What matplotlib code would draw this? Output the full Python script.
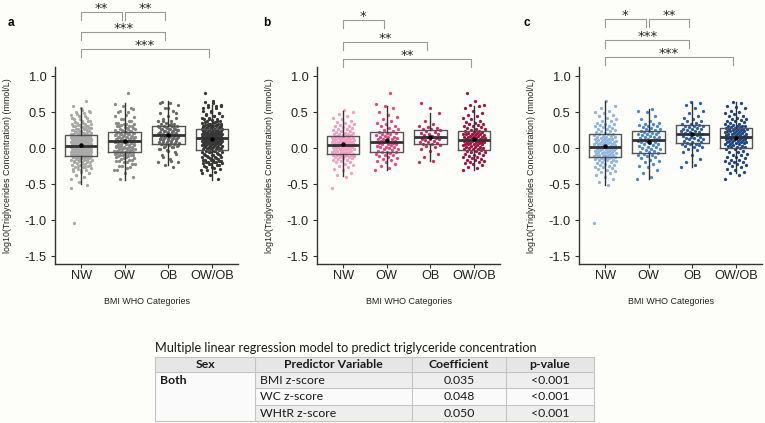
import matplotlib.pyplot as plt
import numpy as np
from matplotlib.patches import Rectangle

plt.rcParams['font.family'] = ['Liberation Sans', 'DejaVu Sans']
plt.rcParams['axes.unicode_minus'] = False

BG = '#fdfdf9'
W, H = 765, 423

categories = ['NW', 'OW', 'OB', 'OW/OB']
yticks = [-1.5, -1.0, -0.5, 0.0, 0.5, 1.0]
ytick_labels = ['-1.5', '-1.0', '-0.5', '0.0', '0.5', '1.0']

# girls (panel b)
b_nw = [-0.55, -0.40, -0.37, -0.34, -0.31, -0.29, -0.27, -0.25, -0.23, -0.22, -0.20, -0.19, -0.18, -0.17,
        -0.16, -0.15, -0.14, -0.14, -0.13, -0.12, -0.12, -0.11, -0.11, -0.10, -0.10, -0.09, -0.09, -0.09,
        -0.08, -0.08, -0.07, -0.07, -0.06, -0.06, -0.05, -0.05, -0.04, -0.04, -0.03, -0.03, -0.02, -0.02,
        -0.01, -0.01, 0.00, 0.00, 0.01, 0.01, 0.02, 0.02, 0.02, 0.03, 0.03, 0.03, 0.04, 0.04, 0.04, 0.05,
        0.05, 0.05, 0.06, 0.06, 0.06, 0.07, 0.07, 0.07, 0.08, 0.08, 0.08, 0.09, 0.09, 0.09, 0.10, 0.10,
        0.10, 0.11, 0.11, 0.11, 0.12, 0.12, 0.12, 0.13, 0.13, 0.14, 0.14, 0.15, 0.15, 0.16, 0.16, 0.16,
        0.17, 0.17, 0.18, 0.18, 0.19, 0.19, 0.20, 0.21, 0.21, 0.22, 0.23, 0.24, 0.25, 0.26, 0.27, 0.28,
        0.29, 0.30, 0.31, 0.32, 0.33, 0.35, 0.36, 0.38, 0.40, 0.42, 0.44, 0.47, 0.50, 0.53]
b_ow = [-0.31, -0.28, -0.25, -0.22, -0.20, -0.18, -0.17, -0.15, -0.14, -0.12, -0.11, -0.10, -0.09, -0.08,
        -0.07, -0.06, -0.05, -0.05, -0.04, -0.03, -0.02, -0.01, 0.00, 0.01, 0.02, 0.02, 0.03, 0.04, 0.05,
        0.05, 0.06, 0.07, 0.07, 0.08, 0.08, 0.09, 0.10, 0.10, 0.11, 0.12, 0.12, 0.13, 0.14, 0.15, 0.15,
        0.16, 0.17, 0.18, 0.19, 0.20, 0.21, 0.21, 0.22, 0.23, 0.25, 0.26, 0.28, 0.30, 0.31, 0.33, 0.35,
        0.37, 0.40, 0.43, 0.46, 0.50, 0.55, 0.58, 0.61, 0.77]
b_ob = [-0.19, -0.18, -0.12, -0.08, -0.04, -0.01, 0.02, 0.03, 0.04, 0.05, 0.06, 0.07, 0.08, 0.09, 0.10,
        0.11, 0.12, 0.13, 0.13, 0.14, 0.15, 0.16, 0.17, 0.18, 0.19, 0.20, 0.21, 0.22, 0.24, 0.25, 0.26,
        0.27, 0.28, 0.29, 0.31, 0.33, 0.37, 0.48, 0.55, 0.62]
b_owob = [-0.31, -0.28, -0.26, -0.24, -0.22, -0.21, -0.20, -0.19, -0.18, -0.17, -0.16, -0.15, -0.14,
          -0.13, -0.12, -0.11, -0.10, -0.09, -0.08, -0.07, -0.06, -0.05, -0.04, -0.04, -0.03, -0.02,
          -0.02, -0.01, 0.00, 0.00, 0.01, 0.02, 0.02, 0.03, 0.04, 0.04, 0.05, 0.05, 0.06, 0.06, 0.07,
          0.07, 0.08, 0.08, 0.09, 0.09, 0.10, 0.10, 0.10, 0.11, 0.11, 0.12, 0.12, 0.13, 0.13, 0.14, 0.14,
          0.15, 0.15, 0.16, 0.16, 0.17, 0.17, 0.18, 0.18, 0.19, 0.19, 0.20, 0.20, 0.21, 0.21, 0.22, 0.22,
          0.23, 0.24, 0.25, 0.26, 0.27, 0.28, 0.29, 0.30, 0.31, 0.32, 0.33, 0.34, 0.35, 0.36, 0.38, 0.40,
          0.42, 0.44, 0.46, 0.49, 0.52, 0.56, 0.58, 0.60, 0.60, 0.65, 0.77]

# boys (panel c)
c_nw = [-1.04, -0.51, -0.47, -0.43, -0.40, -0.37, -0.35, -0.33, -0.32, -0.30, -0.29, -0.28, -0.27, -0.26,
        -0.25, -0.24, -0.23, -0.22, -0.21, -0.20, -0.19, -0.18, -0.17, -0.17, -0.16, -0.15, -0.15, -0.14,
        -0.14, -0.13, -0.13, -0.12, -0.12, -0.11, -0.11, -0.10, -0.10, -0.09, -0.09, -0.08, -0.08, -0.07,
        -0.07, -0.06, -0.06, -0.05, -0.05, -0.04, -0.04, -0.03, -0.03, -0.02, -0.02, -0.01, -0.01, 0.00,
        0.00, 0.01, 0.01, 0.02, 0.02, 0.03, 0.03, 0.04, 0.04, 0.05, 0.05, 0.06, 0.06, 0.07, 0.07, 0.08,
        0.08, 0.09, 0.09, 0.10, 0.10, 0.11, 0.11, 0.12, 0.12, 0.13, 0.13, 0.14, 0.15, 0.15, 0.16, 0.17,
        0.17, 0.18, 0.19, 0.20, 0.20, 0.21, 0.22, 0.23, 0.24, 0.25, 0.26, 0.27, 0.28, 0.29, 0.30, 0.31,
        0.32, 0.33, 0.34, 0.35, 0.37, 0.38, 0.40, 0.42, 0.44, 0.46, 0.48, 0.50, 0.52, 0.55, 0.59, 0.65]
c_ow = [-0.43, -0.40, -0.35, -0.30, -0.27, -0.25, -0.22, -0.20, -0.18, -0.16, -0.14, -0.13, -0.11, -0.10,
        -0.09, -0.08, -0.07, -0.06, -0.05, -0.04, -0.03, -0.02, -0.01, 0.00, 0.01, 0.02, 0.03, 0.04, 0.05,
        0.06, 0.07, 0.08, 0.09, 0.10, 0.10, 0.11, 0.11, 0.12, 0.13, 0.14, 0.15, 0.16, 0.16, 0.17, 0.18,
        0.19, 0.20, 0.20, 0.21, 0.22, 0.22, 0.23, 0.24, 0.25, 0.26, 0.27, 0.28, 0.29, 0.30, 0.31, 0.32,
        0.33, 0.34, 0.35, 0.37, 0.40, 0.45, 0.50, 0.52, 0.54]
c_ob = [-0.26, -0.24, -0.20, -0.15, -0.10, -0.06, -0.03, -0.01, 0.01, 0.02, 0.03, 0.04, 0.05, 0.06, 0.06,
        0.07, 0.08, 0.09, 0.10, 0.11, 0.12, 0.13, 0.14, 0.14, 0.15, 0.16, 0.17, 0.18, 0.19, 0.19, 0.20,
        0.21, 0.22, 0.22, 0.23, 0.24, 0.25, 0.26, 0.26, 0.27, 0.28, 0.29, 0.30, 0.30, 0.31, 0.32, 0.33,
        0.34, 0.35, 0.37, 0.38, 0.40, 0.42, 0.45, 0.48, 0.52, 0.56, 0.60, 0.62, 0.64]
c_owob = [-0.43, -0.38, -0.35, -0.33, -0.31, -0.29, -0.27, -0.25, -0.23, -0.22, -0.21, -0.20, -0.19,
          -0.18, -0.17, -0.16, -0.14, -0.13, -0.12, -0.10, -0.09, -0.08, -0.06, -0.05, -0.04, -0.02,
          -0.01, 0.00, 0.01, 0.01, 0.02, 0.03, 0.03, 0.04, 0.05, 0.05, 0.06, 0.07, 0.07, 0.08, 0.08, 0.09,
          0.09, 0.10, 0.10, 0.11, 0.11, 0.12, 0.12, 0.13, 0.13, 0.14, 0.14, 0.15, 0.15, 0.16, 0.16, 0.16,
          0.17, 0.17, 0.18, 0.18, 0.19, 0.19, 0.20, 0.20, 0.21, 0.21, 0.22, 0.22, 0.23, 0.23, 0.24, 0.24,
          0.25, 0.25, 0.26, 0.26, 0.27, 0.27, 0.28, 0.28, 0.29, 0.29, 0.30, 0.30, 0.31, 0.31, 0.32, 0.33,
          0.34, 0.35, 0.36, 0.37, 0.38, 0.39, 0.40, 0.41, 0.42, 0.44, 0.45, 0.47, 0.49, 0.50, 0.52, 0.55,
          0.57, 0.59, 0.62, 0.64]

# box stats: (q1, median, q3, whisker low, whisker high)
a_box = [(-0.106, 0.03, 0.185, -0.50, 0.56), (-0.06, 0.097, 0.227, -0.44, 0.625),
         (0.06, 0.185, 0.30, -0.23, 0.65), (-0.028, 0.14, 0.27, -0.44, 0.60)]
b_box = [(-0.08, 0.046, 0.167, -0.39, 0.52), (-0.05, 0.08, 0.218, -0.30, 0.58),
         (0.055, 0.148, 0.255, -0.185, 0.486), (-0.028, 0.11, 0.24, -0.31, 0.59)]
c_box = [(-0.13, 0.014, 0.19, -0.51, 0.65), (-0.07, 0.11, 0.23, -0.43, 0.54),
         (0.065, 0.195, 0.315, -0.26, 0.64), (0.0, 0.16, 0.28, -0.35, 0.64)]

a_colors = ['#a9a9a9', '#8a8a8a', '#686868', '#383838']
b_colors = ['#f29fc2', '#e8467f', '#cc2a60', '#a5123f']
c_colors = ['#8fb5e3', '#4b86cf', '#2b5fa8', '#1d4588']

# significance brackets: (from, to, height, label)
a_sig = [(1, 2, 1.893, '**'), (2, 3, 1.893, '**'), (1, 3, 1.607, '***'), (1, 4, 1.370, '***')]
b_sig = [(1, 2, 1.778, '*'), (1, 3, 1.468, '**'), (1, 4, 1.232, '**')]
c_sig = [(1, 2, 1.792, '*'), (2, 3, 1.792, '**'), (1, 3, 1.50, '***'), (1, 4, 1.268, '***')]

tbl_title = 'Multiple linear regression model to predict triglyceride concentration'
tbl_header = ['Sex', 'Predictor Variable', 'Coefficient', 'p-value']
tbl_sex = 'Both'
tbl_pred = ['BMI z-score', 'WC z-score', 'WHtR z-score']
tbl_coef = ['0.035', '0.048', '0.050']
tbl_p = ['<0.001', '<0.001', '<0.001']


def jitter(n, w):
    k = np.arange(n)
    return ((k * 0.6180339887) % 1 - 0.5) * 2 * w


a_groups = [b_nw + c_nw, b_ow + c_ow, b_ob + c_ob, b_owob + c_owob]
b_groups = [b_nw, b_ow, b_ob, b_owob]
c_groups = [c_nw, c_ow, c_ob, c_owob]

panels = [('a', 55, a_groups, a_box, a_colors, a_sig, 0.24, 8),
          ('b', 317, b_groups, b_box, b_colors, b_sig, 0.26, 263),
          ('c', 579, c_groups, c_box, c_colors, c_sig, 0.26, 523)]

fig = plt.figure(figsize=(W / 100, H / 100), dpi=100, facecolor=BG)

for letter, left, groups, box, cols, sig, jw, lx in panels:
    ax = fig.add_axes([left / W, 159 / H, 183 / W, 197 / H])
    ax.set_facecolor('none')
    for i, vals in enumerate(groups):
        v = np.asarray(vals)
        ax.scatter(i + 1 + jitter(len(v), jw), v, s=5.5, color=cols[i], lw=0, zorder=2)
    stats = [dict(q1=q1, med=med, q3=q3, whislo=lo, whishi=hi, fliers=[]) for q1, med, q3, lo, hi in box]
    ax.bxp(stats, positions=[1, 2, 3, 4], widths=0.75, showcaps=False, showfliers=False,
           boxprops=dict(color='#555555', lw=1.0), whiskerprops=dict(color='#333333', lw=1.0),
           medianprops=dict(color='#333333', lw=2.0), manage_ticks=False, zorder=3)
    ax.scatter([1, 2, 3, 4], [np.mean(g) for g in groups], s=10, color='black', lw=0, zorder=4)

    for x0, x1, y, lab in sig:
        ax.plot([x0, x0, x1 - 0.07, x1 - 0.07], [y - 0.11, y, y, y - 0.11], color='#9a9a9a', lw=0.8,
                clip_on=False)
        ax.text((x0 + x1 - 0.07) / 2, y, lab, ha='center', va='baseline', fontsize=9.5,
                family='DejaVu Sans', color='#222222', clip_on=False)

    ax.set_xlim(0.4, 4.6)
    ax.set_ylim(-1.61, 1.125)
    ax.set_xticks([1, 2, 3, 4], categories, fontsize=9.2)
    ax.set_yticks(yticks, ytick_labels, fontsize=9.2)
    ax.tick_params(length=3, width=0.8, color='#333333', labelcolor='#222222')
    ax.tick_params(axis='x', pad=1.5)
    ax.tick_params(axis='y', pad=3)
    for s in ['top', 'right']:
        ax.spines[s].set_visible(False)
    for s in ['left', 'bottom']:
        ax.spines[s].set_color('#333333')
        ax.spines[s].set_linewidth(1.0)
    ax.set_ylabel('log10(Triglycerides Concentration) (mmol/L)', fontsize=6.4, color='#222222')
    ax.yaxis.set_label_coords(-0.235, 0.5)
    ax.set_xlabel('BMI WHO Categories', fontsize=6.4, color='#222222')
    ax.xaxis.set_label_coords(0.5, -0.168)
    fig.text(lx / W, 1 - 26 / H, letter, fontsize=8.5, fontweight='bold', ha='left', va='baseline')

# table
tx = fig.add_axes([0, 0, 1, 1], zorder=-1)
tx.set_xlim(0, W)
tx.set_ylim(H, 0)
tx.axis('off')
xs = [155, 255, 412, 506, 594]
ys = [357, 372, 388.5, 405, 421.5]
tfont = dict(family=['Lato', 'DejaVu Sans'], fontsize=8.8, color='#1a1a1a')
tx.text(155, 352, tbl_title, ha='left', va='baseline', family=['Lato', 'DejaVu Sans'], fontsize=9.1,
        color='#1a1a1a')
tx.add_patch(Rectangle((xs[0], ys[0]), xs[-1] - xs[0], ys[1] - ys[0], fc='#e6e6e6', ec='none'))
row_fc = ['#eeeeee', '#fafafa', '#eeeeee']
for r in range(3):
    tx.add_patch(Rectangle((xs[1], ys[r + 1]), xs[-1] - xs[1], ys[r + 2] - ys[r + 1], fc=row_fc[r], ec='none'))
tx.add_patch(Rectangle((xs[0], ys[1]), xs[1] - xs[0], ys[-1] - ys[1], fc='#fafafa', ec='none'))
lc = '#c4c4c4'
for x in xs:
    tx.plot([x, x], [ys[0], ys[-1]], color=lc, lw=0.8)
for k, y in enumerate(ys):
    if k in (0, 1, len(ys) - 1):
        tx.plot([xs[0], xs[-1]], [y, y], color=lc, lw=0.8)
    else:
        tx.plot([xs[1], xs[-1]], [y, y], color=lc, lw=0.8)
for c, h in enumerate(tbl_header):
    tx.text((xs[c] + xs[c + 1]) / 2, (ys[0] + ys[1]) / 2, h, ha='center', va='center', fontweight='bold', **tfont)
tx.text(xs[0] + 5, (ys[1] + ys[2]) / 2, tbl_sex, ha='left', va='center', fontweight='bold', **tfont)
for r in range(3):
    yc = (ys[r + 1] + ys[r + 2]) / 2
    tx.text(xs[1] + 5, yc, tbl_pred[r], ha='left', va='center', **tfont)
    tx.text((xs[2] + xs[3]) / 2, yc, tbl_coef[r], ha='center', va='center', **tfont)
    tx.text((xs[3] + xs[4]) / 2, yc, tbl_p[r], ha='center', va='center', **tfont)

fig.savefig('out.png', dpi=100, facecolor=BG)
